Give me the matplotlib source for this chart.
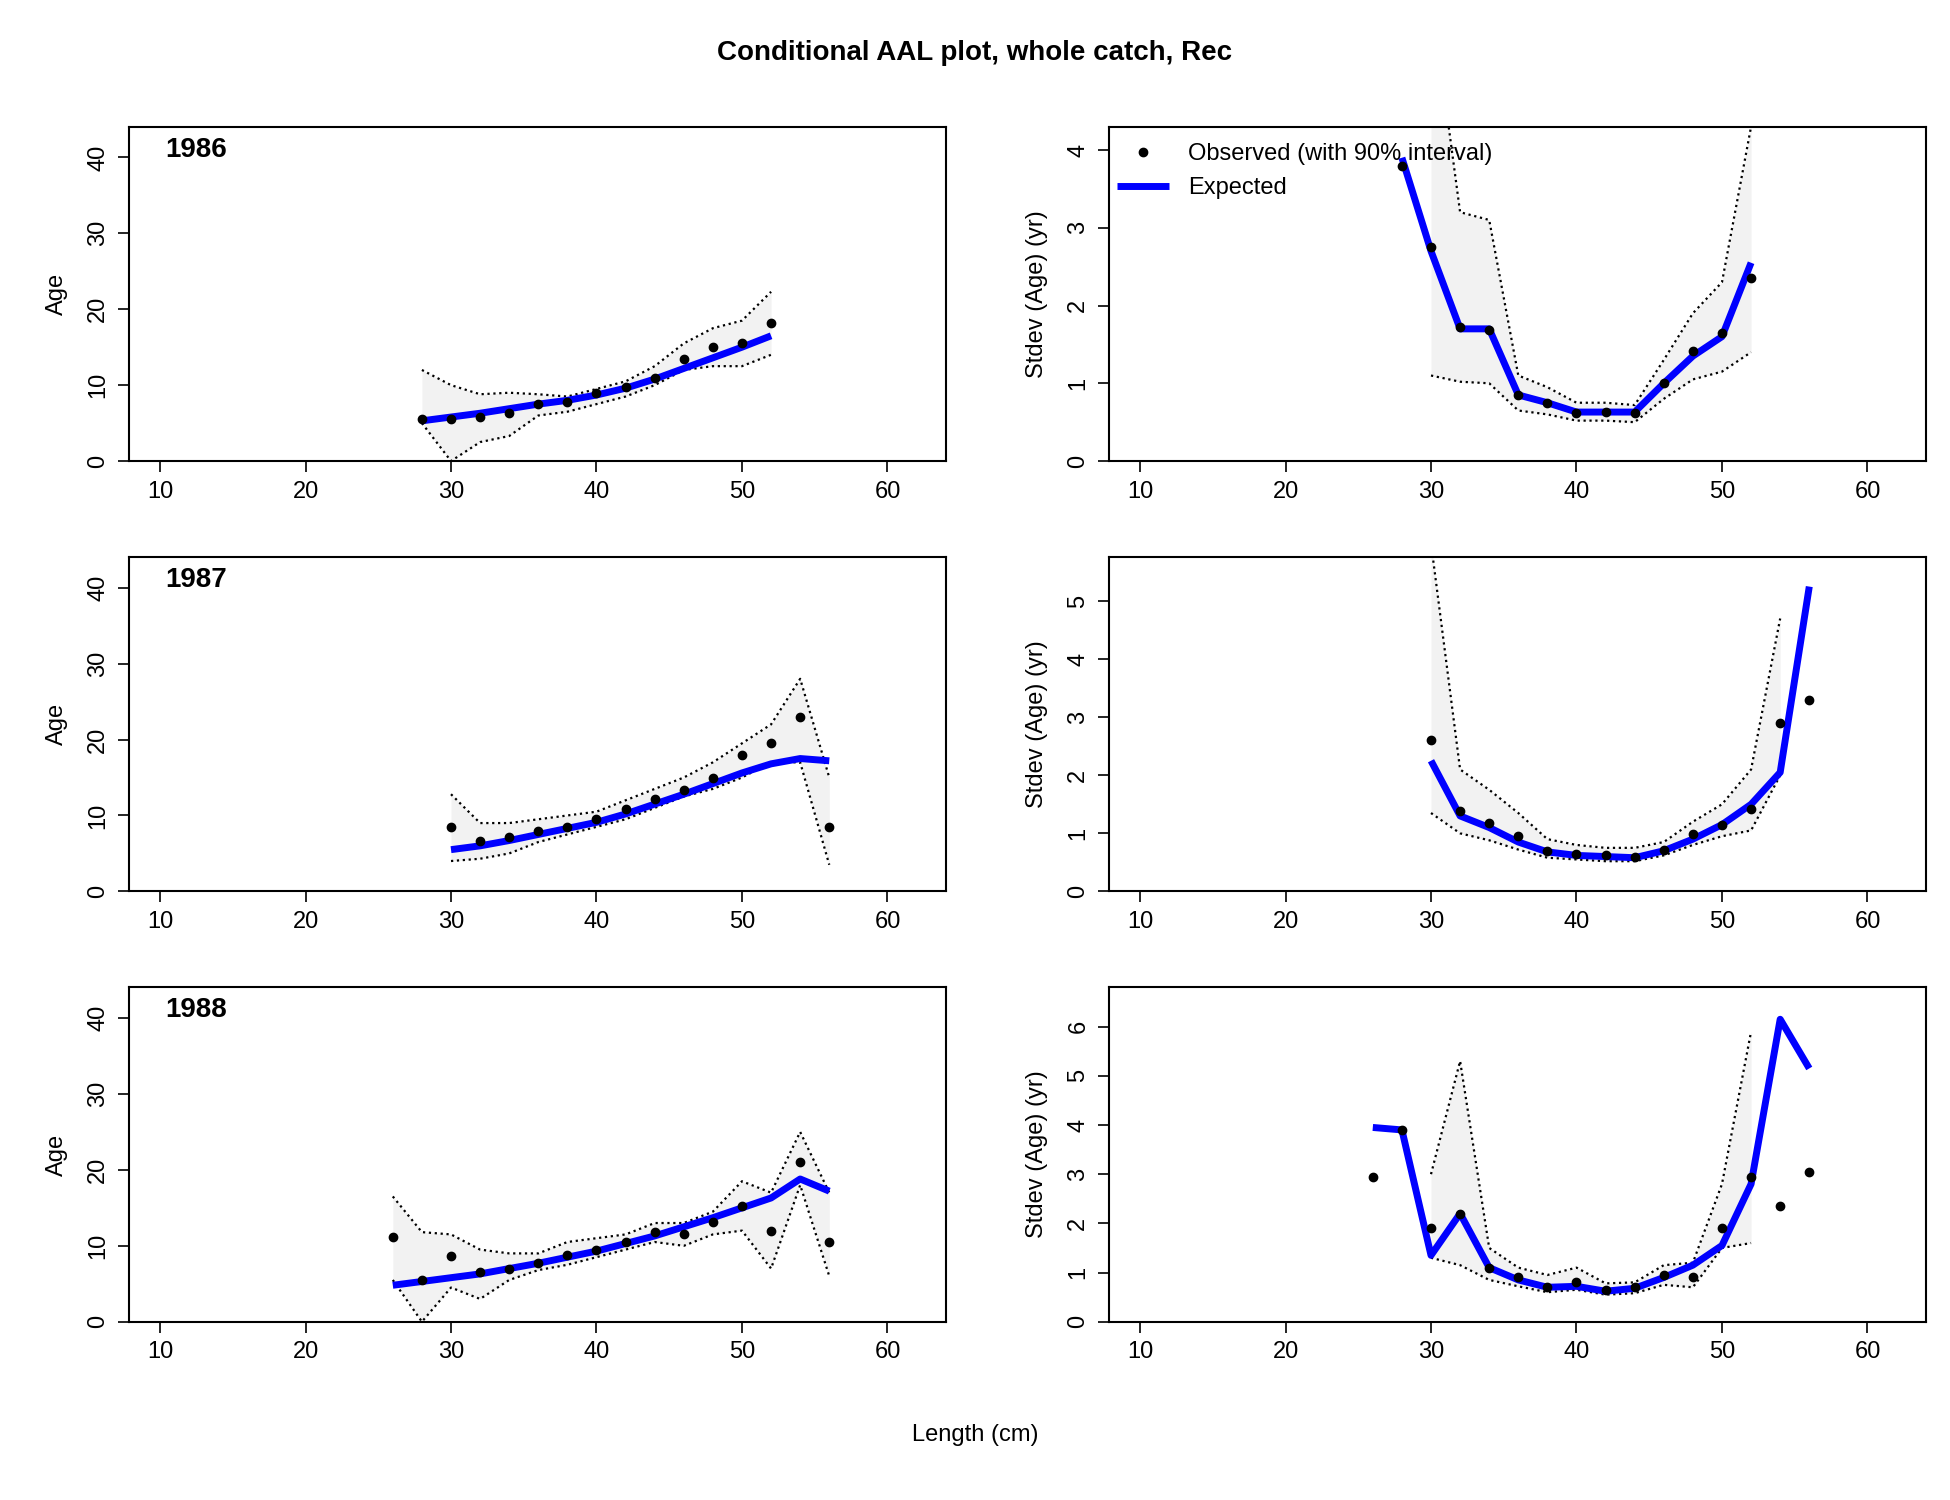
import numpy as np
import matplotlib
matplotlib.use("Agg")
from matplotlib import pyplot as plt

plt.rcParams['font.family'] = ['Liberation Sans', 'DejaVu Sans']
nan = np.nan

len86 = np.arange(28, 53, 2)
len87 = np.arange(30, 57, 2)
len88 = np.arange(26, 57, 2)

# mean age panels
age_obs86 = [5.5, 5.5, 5.8, 6.3, 7.5, 7.8, 9, 9.8, 11, 13.5, 15, 15.5, 18.2]
age_exp86 = [5.3, 5.8, 6.3, 6.9, 7.5, 8, 8.7, 9.6, 10.8, 12.2, 13.6, 15, 16.5]
age_up86 = [12, 10, 8.8, 9, 8.8, 8.5, 9.5, 10.5, 12.5, 15.5, 17.5, 18.5, 22.3]
age_lo86 = [5, 0, 2.5, 3.3, 6, 6.5, 7.5, 8.5, 10, 12, 12.5, 12.5, 14]

age_obs87 = [8.5, 6.7, 7.2, 8.0, 8.5, 9.5, 10.8, 12.2, 13.3, 15, 18, 19.5, 23, 8.5]
age_exp87 = [5.5, 6, 6.7, 7.5, 8.3, 9.1, 10.2, 11.5, 12.8, 14.2, 15.6, 16.8, 17.5, 17.2]
age_up87 = [12.8, 9, 9, 9.5, 10, 10.5, 12, 13.5, 15, 17, 19.5, 22, 28, 15]
age_lo87 = [4, 4.3, 5, 6.5, 7.5, 8.5, 9.5, 11, 12.5, 13.5, 15, 17, 17, 3.5]

age_obs88 = [11.2, 5.5, 8.7, 6.5, 7, 7.8, 8.8, 9.5, 10.5, 11.8, 11.5, 13.2, 15.3, 12, 21, 10.5]
age_exp88 = [4.8, 5.3, 5.8, 6.3, 7, 7.7, 8.5, 9.3, 10.3, 11.3, 12.5, 13.7, 15, 16.3, 18.8, 17.2]
age_up88 = [16.5, 11.8, 11.5, 9.5, 9, 9, 10.5, 11, 11.5, 13, 13, 14.5, 18.5, 17, 25, 17]
age_lo88 = [5.5, 0, 4.5, 3, 5.5, 6.8, 7.5, 8.5, 9.5, 10.5, 10, 11.5, 12, 7, 18, 6]

# stdev panels
sd_obs86 = [3.8, 2.75, 1.72, 1.68, 0.85, 0.75, 0.62, 0.63, 0.62, 1.0, 1.42, 1.65, 2.35]
sd_exp86 = [3.9, 2.7, 1.7, 1.7, 0.85, 0.75, 0.63, 0.63, 0.63, 1.0, 1.35, 1.6, 2.55]
sd_up86 = [nan, 6, 3.2, 3.1, 1.1, 0.95, 0.75, 0.75, 0.72, 1.3, 1.9, 2.3, 4.3]
sd_lo86 = [nan, 1.1, 1.02, 1.0, 0.65, 0.6, 0.52, 0.52, 0.5, 0.8, 1.05, 1.15, 1.4]

sd_obs87 = [2.6, 1.38, 1.18, 0.95, 0.7, 0.65, 0.63, 0.6, 0.72, 0.98, 1.15, 1.42, 2.9, 3.3]
sd_exp87 = [2.25, 1.3, 1.1, 0.85, 0.68, 0.62, 0.6, 0.58, 0.7, 0.9, 1.15, 1.5, 2.05, 5.25]
sd_up87 = [6, 2.1, 1.75, 1.35, 0.9, 0.8, 0.75, 0.75, 0.85, 1.2, 1.5, 2.1, 4.7, nan]
sd_lo87 = [1.35, 1.0, 0.88, 0.72, 0.58, 0.55, 0.52, 0.52, 0.62, 0.8, 0.95, 1.05, 2.0, nan]

sd_obs88 = [2.95, 3.9, 1.9, 2.2, 1.1, 0.9, 0.7, 0.8, 0.65, 0.7, 0.95, 0.9, 1.9, 2.95, 2.35, 3.05]
sd_exp88 = [3.95, 3.9, 1.35, 2.2, 1.1, 0.85, 0.7, 0.72, 0.62, 0.68, 0.9, 1.15, 1.55, 2.8, 6.15, 5.15]
sd_up88 = [nan, nan, 3.0, 5.3, 1.5, 1.1, 0.95, 1.1, 0.78, 0.8, 1.15, 1.2, 2.8, 5.9, nan, nan]
sd_lo88 = [nan, nan, 1.3, 1.15, 0.85, 0.72, 0.6, 0.65, 0.55, 0.58, 0.75, 0.7, 1.5, 1.6, nan, nan]

years = ["1986", "1987", "1988"]
rows = [
    (len86, age_obs86, age_exp86, age_up86, age_lo86, sd_obs86, sd_exp86, sd_up86, sd_lo86, 4.3),
    (len87, age_obs87, age_exp87, age_up87, age_lo87, sd_obs87, sd_exp87, sd_up87, sd_lo87, 5.76),
    (len88, age_obs88, age_exp88, age_up88, age_lo88, sd_obs88, sd_exp88, sd_up88, sd_lo88, 6.8),
]

fig = plt.figure(figsize=(19.5, 15), dpi=100)
tops = [103, 453, 803]
H = 1220.0


def panel(ax, x, obs, exp, up, lo, ytop, yticks, ylabel):
    up = np.array(up, float)
    lo = np.array(lo, float)
    ax.fill_between(x, lo, up, color='#f2f2f2', lw=0)
    ax.plot(x, up, 'k:', lw=1.6)
    ax.plot(x, lo, 'k:', lw=1.6)
    ax.plot(x, exp, color='#0000ff', lw=5, solid_capstyle='butt', label='Expected')
    ax.plot(x, obs, 'o', color='k', ms=6, label='Observed (with 90% interval)')
    ax.set_xlim(7.85, 64.04)
    ax.set_ylim(0, ytop)
    ax.set_xticks([10, 20, 30, 40, 50, 60])
    ax.set_yticks(yticks)
    ax.set_yticklabels([str(t) for t in yticks], rotation=90, va='center')
    ax.tick_params(labelsize=17, length=8, width=1.2, pad=6)
    for s in ax.spines.values():
        s.set_linewidth(1.5)
    ax.set_ylabel(ylabel, fontsize=17, labelpad=14)


for i, r in enumerate(rows):
    x, ao, ae, au, al, so, se, su, sl, sdtop = r
    b = 1 - (tops[i] + 272) / H
    h = 272 / H
    axl = fig.add_axes([103 / 1560, b, 654 / 1560, h])
    panel(axl, x, ao, ae, au, al, 44.05, [0, 10, 20, 30, 40], 'Age')
    axl.text(0.045, 0.97, years[i], transform=axl.transAxes, fontsize=20,
             fontweight='bold', va='top')
    axr = fig.add_axes([887 / 1560, b, 654 / 1560, h])
    panel(axr, x, so, se, su, sl, sdtop, list(range(0, int(sdtop) + 1)), 'Stdev (Age) (yr)')
    if i == 0:
        hs, ls = axr.get_legend_handles_labels()
        axr.legend(hs[::-1], ls[::-1], loc='upper left', frameon=False, fontsize=17,
                   handlelength=2.2, borderaxespad=0.3, bbox_to_anchor=(-0.01, 1.0))

fig.text(0.5, 1 - 43 / H, 'Conditional AAL plot, whole catch, Rec', ha='center', va='center',
         fontsize=20, fontweight='bold')
fig.text(0.5, 1 - 1167 / H, 'Length (cm)', ha='center', va='center', fontsize=17)

fig.savefig('out.png', dpi=100)
